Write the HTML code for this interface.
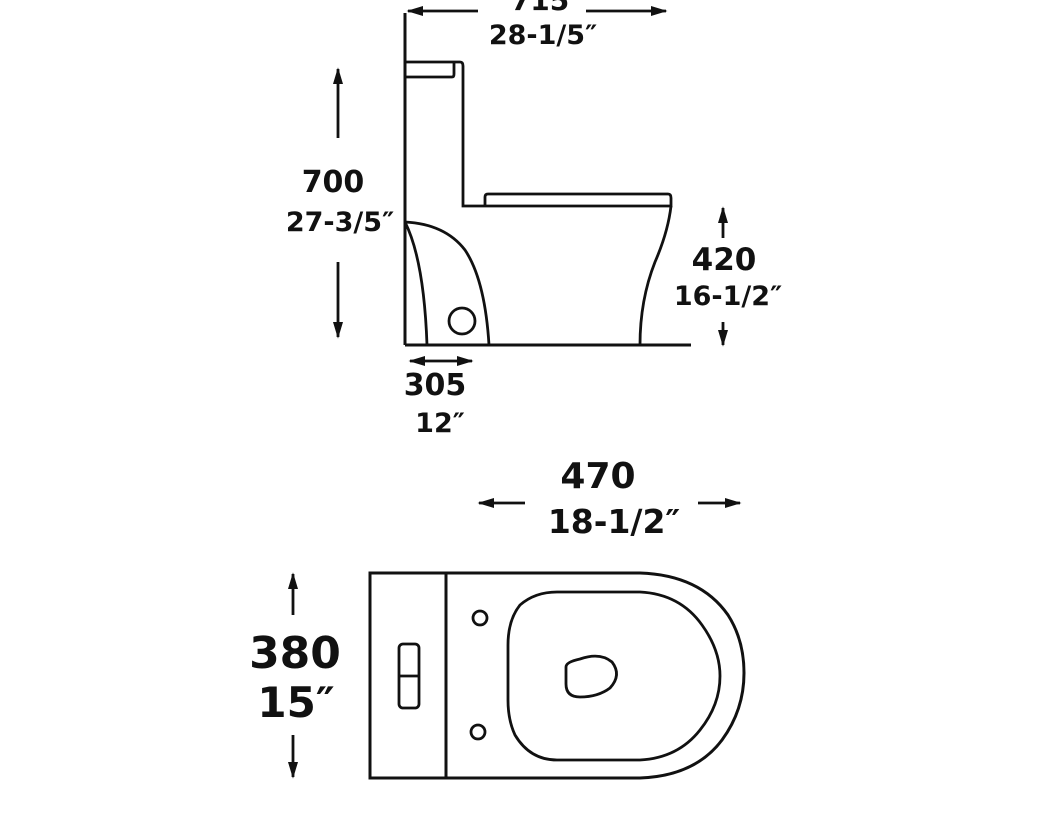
<!DOCTYPE html>
<html><head><style>
html,body{margin:0;padding:0;background:#fff;width:1040px;height:840px;overflow:hidden}
svg{display:block}
text{font-family:"DejaVu Sans","Liberation Sans",sans-serif;font-weight:bold;fill:#111;text-anchor:middle}
</style></head><body>
<svg width="1040" height="840" viewBox="0 0 1040 840" xmlns="http://www.w3.org/2000/svg">
<defs>
<marker id="a" viewBox="0 0 10 10" refX="9" refY="5" markerWidth="6" markerHeight="6" orient="auto-start-reverse"><path d="M0,2 L10,5 L0,8 z" fill="#111"/></marker>
</defs>
<g stroke="#111" stroke-width="2.8" fill="none">
<line x1="478" y1="11" x2="408" y2="11" marker-end="url(#a)"/>
<line x1="586" y1="11" x2="666" y2="11" marker-end="url(#a)"/>
<line x1="405" y1="13" x2="405" y2="345" stroke-width="3"/>
<line x1="405" y1="345" x2="691" y2="345" stroke-width="3"/>
<path d="M405,62 H460 Q463,62 463,66 V206 H485"/>
<path d="M405,77 H452 Q454,77 454,74 V62"/>
<path d="M485,206 V197 Q485,194 488,194 H668 Q671,194 671,198 V206 H485"/>
<path d="M671,206 Q668,232 655,262 Q640,300 640,345"/>
<path d="M405,222 Q445,224 465,250 Q485,280 489,345"/>
<path d="M405,222 Q424,260 427,345"/>
<circle cx="462" cy="321" r="13"/>
<line x1="338" y1="138" x2="338" y2="69" marker-end="url(#a)"/>
<line x1="338" y1="262" x2="338" y2="337" marker-end="url(#a)"/>
<line x1="723" y1="238" x2="723" y2="208" marker-end="url(#a)"/>
<line x1="723" y1="322" x2="723" y2="345" marker-end="url(#a)"/>
<line x1="410" y1="361" x2="472" y2="361" marker-end="url(#a)" marker-start="url(#a)"/>
<line x1="525" y1="503" x2="479" y2="503" marker-end="url(#a)"/>
<line x1="698" y1="503" x2="740" y2="503" marker-end="url(#a)"/>
<line x1="293" y1="615" x2="293" y2="574" marker-end="url(#a)"/>
<line x1="293" y1="735" x2="293" y2="777" marker-end="url(#a)"/>
<path d="M370,573 H640 Q700,575 728,615 Q744,640 744,673 Q744,710 722,740 Q695,776 640,778 H370 Z" stroke-width="3"/>
<line x1="446" y1="573" x2="446" y2="779" stroke-width="3"/>
<path d="M557,592 H640 Q680,594 702,625 Q720,650 720,676 Q720,705 700,730 Q678,758 640,760 H557 Q530,760 515,735 Q508,720 508,700 V645 Q508,620 520,605 Q535,592 557,592 Z"/>
<path d="M580,659 Q600,652 612,662 Q622,675 610,688 Q598,697 580,697 Q566,697 566,684 V667 Q566,662 580,659 Z"/>
<circle cx="480" cy="618" r="7"/>
<circle cx="478" cy="732" r="7"/>
<rect x="399" y="644" width="20" height="64" rx="4"/>
<line x1="399" y1="676" x2="419" y2="676"/>
</g>
<text x="540" y="10" font-size="28">715</text>
<text x="543" y="44" font-size="27">28-1/5″</text>
<text x="333" y="192" font-size="30">700</text>
<text x="340" y="231" font-size="27">27-3/5″</text>
<text x="724" y="270" font-size="31">420</text>
<text x="728" y="305" font-size="27">16-1/2″</text>
<text x="435" y="395" font-size="30">305</text>
<text x="440" y="432" font-size="27">12″</text>
<text x="598" y="488" font-size="36">470</text>
<text x="614" y="533" font-size="33">18-1/2″</text>
<text x="295" y="668" font-size="44">380</text>
<text x="296" y="717" font-size="42">15″</text>
</svg>
</body></html>
